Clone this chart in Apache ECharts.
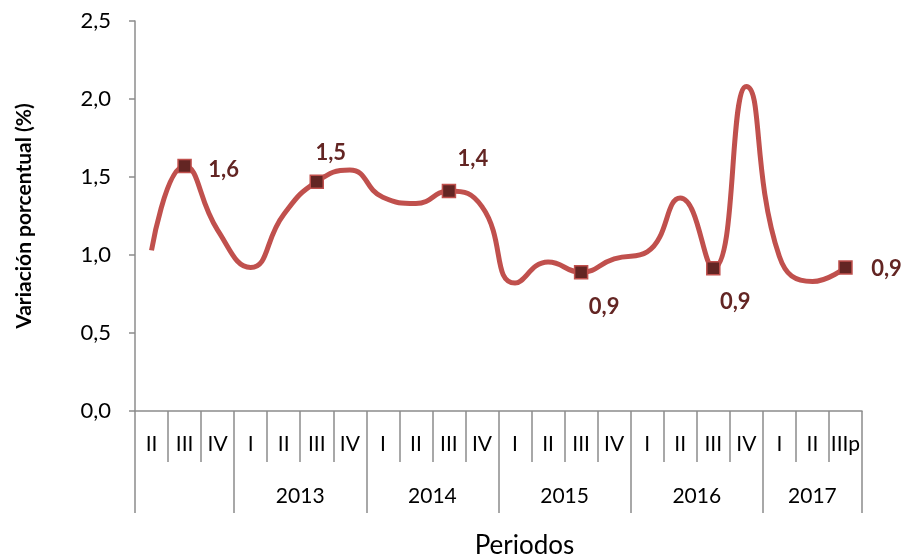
<!DOCTYPE html>
<html>
<head>
<meta charset="utf-8">
<script src="https://cdn.jsdelivr.net/npm/echarts@6/dist/echarts.min.js"></script>
<style>
  html, body { margin: 0; padding: 0; background: #fff; }
  #chart { width: 906px; height: 556px; }
</style>
</head>
<body>
<div id="chart"></div>
<script>
  // trimestres (el primer año sin etiqueta)
  const quarters = ['II', 'III', 'IV',
    'I', 'II', 'III', 'IV',
    'I', 'II', 'III', 'IV',
    'I', 'II', 'III', 'IV',
    'I', 'II', 'III', 'IV',
    'I', 'II', 'IIIp'];
  const years = ['2013', '2014', '2015', '2016', '2017'];
  const values = [1.03, 1.57, 1.16,
    0.92, 1.26, 1.47, 1.545,
    1.37, 1.33, 1.41, 1.31,
    0.82, 0.955, 0.89, 0.975,
    1.02, 1.365, 0.915, 2.08,
    0.99, 0.83, 0.92];
  const markedIdx = [1, 5, 9, 13, 17, 21];
  const yTicks = [0, 0.5, 1, 1.5, 2, 2.5];

  const fmt = (v) => v.toFixed(1).replace('.', ',');

  // label offsets for the marked points
  const labelOffset = {
    1: [39, 4], 5: [14, -29], 9: [24, -32],
    13: [23, 35], 17: [22, 34], 21: [41, 1]
  };

  // year groups: start at each 'I'
  const bounds = [0];
  quarters.forEach((q, i) => { if (q === 'I') bounds.push(i); });
  bounds.push(quarters.length);
  const yearCenters = [];
  for (let i = 1; i < bounds.length - 1; i++) {
    yearCenters.push((bounds[i] + bounds[i + 1]) / 2);
  }

  const data = values.map((v, i) => {
    if (markedIdx.indexOf(i) < 0) return { value: v, symbol: 'none' };
    return {
      value: v,
      symbol: 'rect',
      symbolSize: 13,
      label: {
        show: true,
        position: 'inside',
        offset: labelOffset[i],
        formatter: (p) => fmt(p.value)
      }
    };
  });

  const chart = echarts.init(document.getElementById('chart'));
  const axisGray = '#8c8c8c';
  const font = 'Lato, "Open Sans", sans-serif';

  chart.setOption({
    animation: false,
    grid: { left: 135, right: 44, top: 21, bottom: 145, outerBoundsMode: 'none', containLabel: false },
    xAxis: [{
      type: 'category',
      data: quarters,
      boundaryGap: true,
      axisLine: { lineStyle: { color: axisGray, width: 1.5 } },
      axisTick: { show: true, interval: 0, length: 51, lineStyle: { color: axisGray, width: 1.5 } },
      axisLabel: { interval: 0, margin: 23, fontSize: 21, color: '#000', fontFamily: font }
    }, {
      type: 'value',
      min: 0,
      max: quarters.length,
      position: 'bottom',
      axisLine: { show: false },
      splitLine: { show: false },
      axisTick: {
        show: true,
        customValues: bounds,
        length: 102,
        lineStyle: { color: axisGray, width: 1.5 }
      },
      axisLabel: {
        customValues: yearCenters,
        margin: 75,
        fontSize: 21,
        color: '#000',
        fontFamily: font,
        formatter: (v) => years[yearCenters.indexOf(v)] || ''
      },
      name: 'Periodos',
      nameLocation: 'middle',
      nameGap: 122,
      nameTextStyle: { fontSize: 26, color: '#000', fontFamily: font, padding: [0, 0, 0, 52] }
    }],
    yAxis: {
      type: 'value',
      min: yTicks[0],
      max: yTicks[yTicks.length - 1],
      interval: 0.5,
      axisLine: { show: true, lineStyle: { color: axisGray, width: 1.5 } },
      axisTick: { show: true, length: 6, lineStyle: { color: axisGray, width: 1.5 } },
      splitLine: { show: false },
      axisLabel: { margin: 24, fontSize: 22, color: '#000', fontFamily: font, formatter: fmt },
      name: 'Variación porcentual (%)',
      nameLocation: 'middle',
      nameGap: 100,
      nameTextStyle: { fontSize: 21, fontWeight: 'bold', color: '#000', fontFamily: font }
    },
    series: [{
      type: 'line',
      xAxisIndex: 0,
      data: data,
      smooth: 0.5,
      showAllSymbol: true,
      lineStyle: { color: '#C0504D', width: 5 },
      itemStyle: { color: '#632523', borderColor: '#C0504D', borderWidth: 1.5 },
      label: { fontSize: 22, fontWeight: 'bold', color: '#632523', fontFamily: font },
      emphasis: { disabled: true }
    }]
  });
</script>
</body>
</html>
